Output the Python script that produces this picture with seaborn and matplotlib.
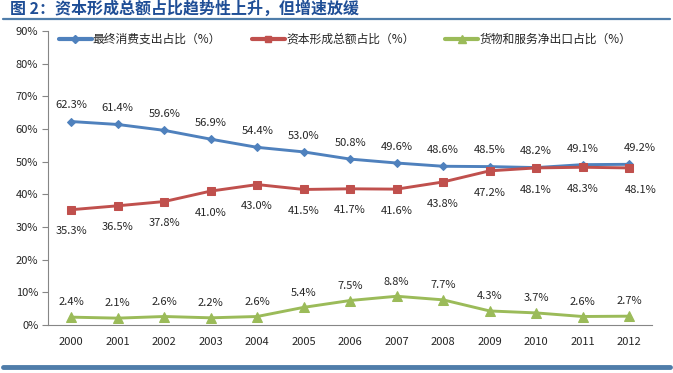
import numpy as np
import pandas as pd
import seaborn as sns
import matplotlib.pyplot as plt
from matplotlib.lines import Line2D

# data
years = ["2000", "2001", "2002", "2003", "2004", "2005", "2006",
         "2007", "2008", "2009", "2010", "2011", "2012"]
consumption = [62.3, 61.4, 59.6, 56.9, 54.4, 53.0, 50.8, 49.6, 48.6, 48.5, 48.2, 49.1, 49.2]
capital = [35.3, 36.5, 37.8, 41.0, 43.0, 41.5, 41.7, 41.6, 43.8, 47.2, 48.1, 48.3, 48.1]
net_exports = [2.4, 2.1, 2.6, 2.2, 2.6, 5.4, 7.5, 8.8, 7.7, 4.3, 3.7, 2.6, 2.7]
series_names = ["最终消费支出占比（%）", "资本形成总额占比（%）", "货物和服务净出口占比（%）"]
title = "图 2：资本形成总额占比趋势性上升，但增速放缓"

sns.set_style("white")
plt.rcParams["font.family"] = ["Noto Sans CJK SC", "DejaVu Sans"]

colors = ["#4F81BD", "#C0504D", "#9BBB59"]
markers = ["D", "s", "^"]
msizes = [4.5, 5.5, 6.5]

fig = plt.figure(figsize=(6.73, 3.73), dpi=100)
ax = fig.add_axes([0.0713, 0.1287, 0.898, 0.788])

x = np.arange(len(years))
all_vals = [consumption, capital, net_exports]
for vals, c, m, ms, name in zip(all_vals, colors, markers, msizes, series_names):
    df = pd.DataFrame({"x": x, "y": vals})
    sns.lineplot(data=df, x="x", y="y", ax=ax, color=c, lw=2.1,
                 marker=m, markersize=ms, markeredgecolor=c, label=name)

# data labels
for i, v in enumerate(consumption):
    dx = 8 if i == 12 else 0
    ax.annotate(f"{v:.1f}%", (i, v), xytext=(dx, 8), textcoords="offset points",
                ha="center", va="bottom", fontsize=8)
for i, v in enumerate(capital):
    dx = 8 if i == 12 else 0
    ax.annotate(f"{v:.1f}%", (i, v), xytext=(dx, -12), textcoords="offset points",
                ha="center", va="top", fontsize=8)
for i, v in enumerate(net_exports):
    ax.annotate(f"{v:.1f}%", (i, v), xytext=(0, 7), textcoords="offset points",
                ha="center", va="bottom", fontsize=8)

ax.set_xlim(-0.5, len(years) - 0.5)
ax.set_ylim(0, 90)
ax.set_yticks(np.arange(0, 91, 10))
ax.set_yticklabels([f"{t}%" for t in range(0, 91, 10)], fontsize=8)
ax.set_xticks(x)
ax.set_xticklabels(years, fontsize=8)
ax.set_xticks(np.arange(-0.5, len(years), 1), minor=True)
ax.tick_params(axis="x", which="major", length=0, pad=9)
ax.tick_params(axis="x", which="minor", length=4, color="#868686", direction="out")
ax.tick_params(axis="y", length=4, color="#868686", direction="out", left=True, pad=3)
ax.set_xlabel("")
ax.set_ylabel("")
for s in ["top", "right"]:
    ax.spines[s].set_visible(False)
for s in ["left", "bottom"]:
    ax.spines[s].set_color("#868686")
    ax.spines[s].set_linewidth(0.8)

handles = [Line2D([0], [0], color=c, lw=3, marker=m, markersize=ms - 0.5)
           for c, m, ms in zip(colors, markers, msizes)]
ax.legend(handles, series_names, loc="upper left", bbox_to_anchor=(0.0, 1.03),
          ncol=3, frameon=False, fontsize=8.5, handlelength=2.8,
          handletextpad=0.1, columnspacing=2.6)

# title and rules
fig.text(0.015, 0.999, title, fontsize=11.5, fontweight="bold", color="#1F4E96",
         ha="left", va="top")
fig.add_artist(Line2D([0.005, 0.995], [0.950, 0.950], color="#4F7DAA", lw=1.6))
fig.add_artist(Line2D([0.005, 0.995], [0.016, 0.016], color="#4F7DAA", lw=3.5))

plt.savefig("out.png", dpi=100)
plt.close()
